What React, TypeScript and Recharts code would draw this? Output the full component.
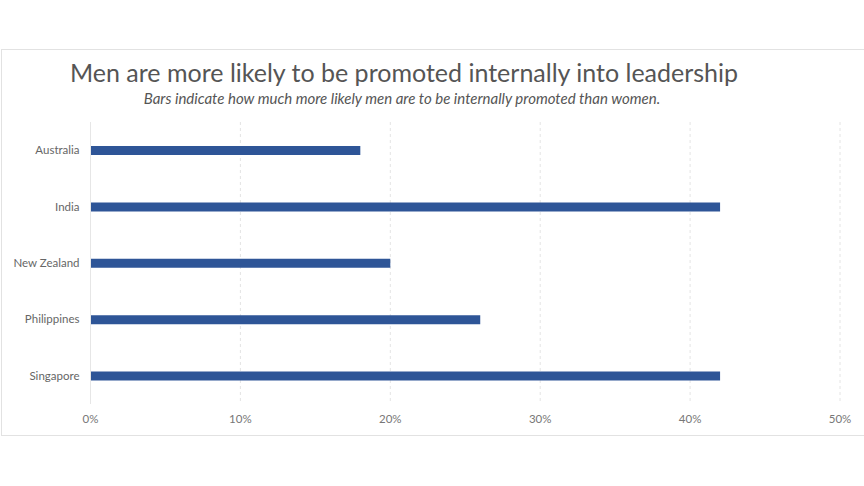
import React from 'react';
import { BarChart, Bar, XAxis, YAxis, CartesianGrid } from 'recharts';

const countries = ['Australia', 'India', 'New Zealand', 'Philippines', 'Singapore'];
const likelihood = [18, 42, 20, 26, 42];
const ticks = [0, 10, 20, 30, 40, 50];

const data = countries.map((country, i) => ({ country, value: likelihood[i] }));

const FONT = 'Lato, "Open Sans", sans-serif';

export default function App() {
    return (
        <div style={{ position: 'absolute', left: 0, top: 0, width: 864, height: 486, background: '#fff', fontFamily: FONT }}>
            <div
                style={{
                    position: 'absolute',
                    left: 1,
                    top: 49,
                    width: 863,
                    height: 387,
                    borderTop: '1px solid #e2e2e2',
                    borderLeft: '1px solid #e2e2e2',
                    borderBottom: '1px solid #e2e2e2',
                    boxSizing: 'border-box',
                }}
            />
            <div style={{ position: 'absolute', left: 0, top: 0 }}>
                <BarChart
                    width={864}
                    height={486}
                    data={data}
                    layout="vertical"
                    margin={{ top: 122, right: 24, bottom: 52, left: 0.5 }}
                >
                    <CartesianGrid horizontal={false} stroke="#e4e4e4" strokeDasharray="3 3" />
                    <XAxis
                        type="number"
                        domain={[0, 50]}
                        ticks={ticks}
                        tickFormatter={(v) => `${v}%`}
                        axisLine={false}
                        tickLine={false}
                        tickSize={0}
                        tickMargin={11}
                        height={30}
                        tick={{ fill: '#777', fontSize: 11.5, fontFamily: FONT }}
                    />
                    <YAxis
                        type="category"
                        dataKey="country"
                        width={90}
                        axisLine={{ stroke: '#e6e6e6' }}
                        tickLine={false}
                        tickSize={0}
                        tickMargin={11}
                        tick={{ fill: '#666', fontSize: 11.5, fontFamily: FONT, width: 120 }}
                    />
                    <Bar dataKey="value" fill="#2E5597" barSize={9} isAnimationActive={false} />
                </BarChart>
            </div>
            <svg width={864} height={486} style={{ position: 'absolute', left: 0, top: 0, pointerEvents: 'none' }}>
                <text x={404} y={82} textAnchor="middle" fill="#555" fontSize={25} fontFamily={FONT}>
                    Men are more likely to be promoted internally into leadership
                </text>
                <text x={402} y={104} textAnchor="middle" fill="#555" fontSize={15} fontStyle="italic" fontFamily={FONT}>
                    Bars indicate how much more likely men are to be internally promoted than women.
                </text>
            </svg>
        </div>
    );
}
